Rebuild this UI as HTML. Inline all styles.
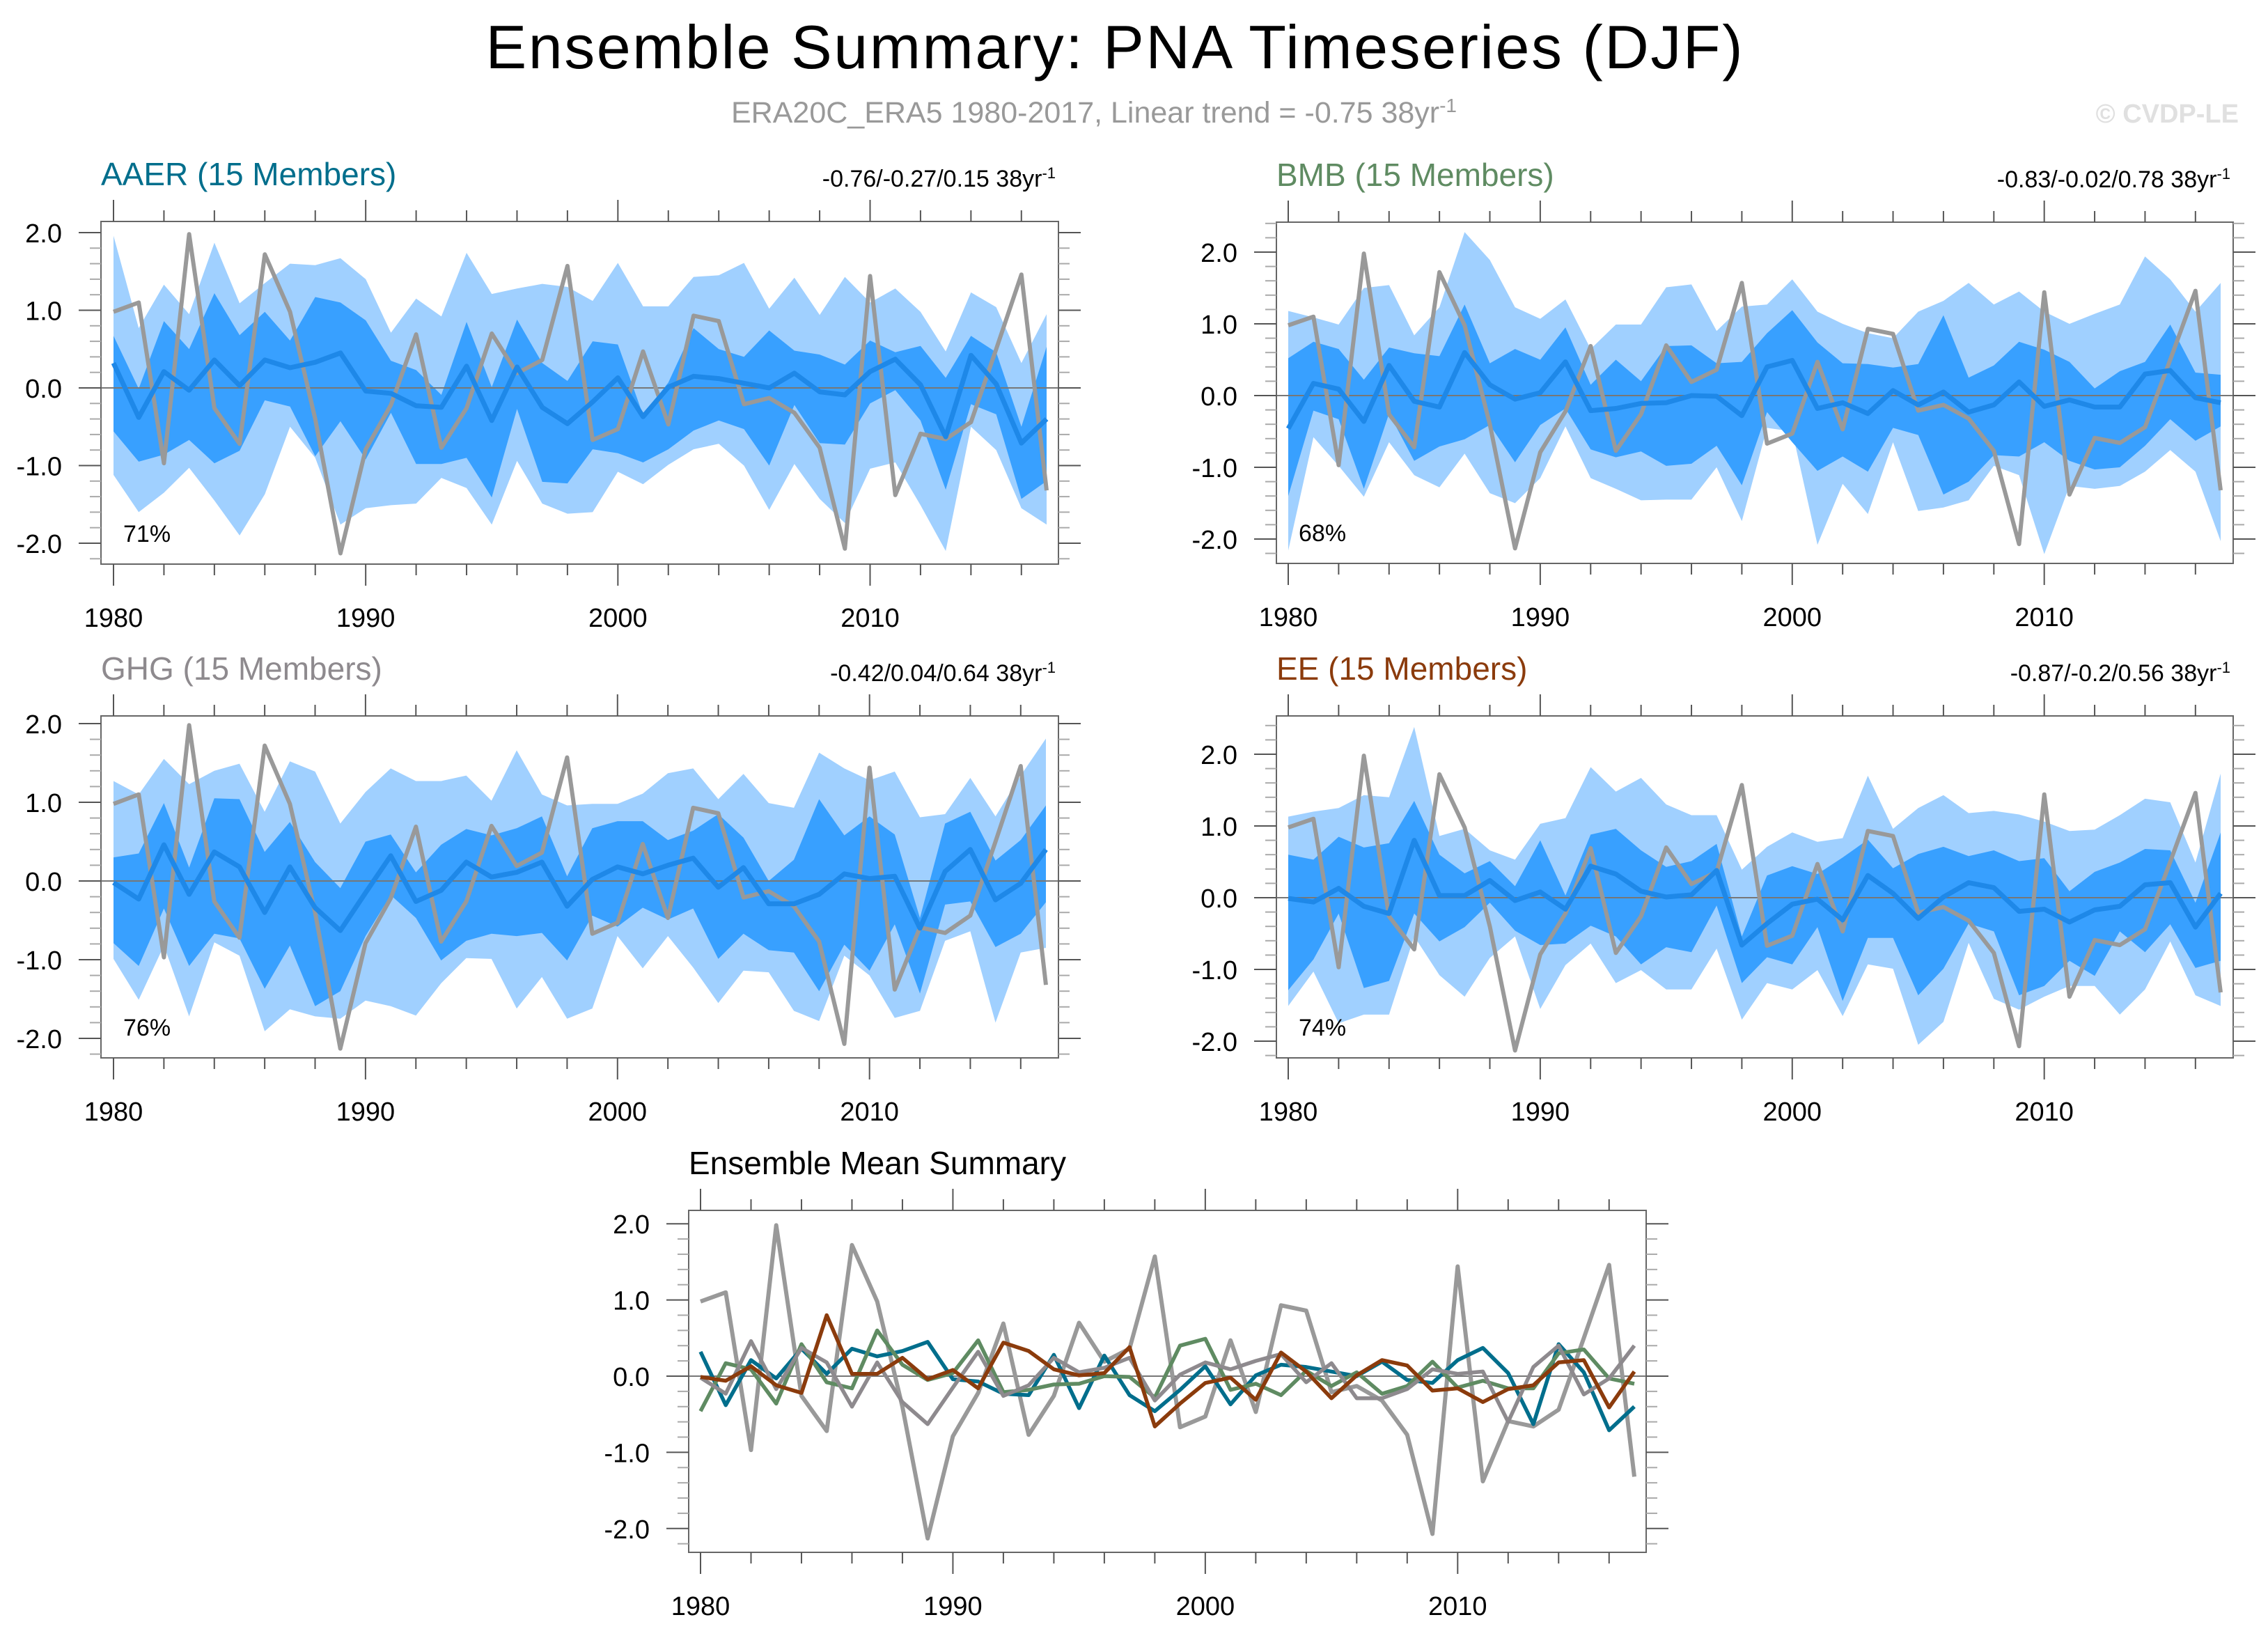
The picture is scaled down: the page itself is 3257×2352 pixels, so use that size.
<!DOCTYPE html>
<html><head><meta charset="utf-8"><style>
html,body{margin:0;padding:0;background:#fff;}
svg{display:block;font-family:"Liberation Sans",sans-serif;}
</style></head><body>
<svg id="chart" xmlns="http://www.w3.org/2000/svg" width="3257" height="2352" viewBox="0 0 3257 2352">
<rect x="0" y="0" width="3257" height="2352" fill="#fff"/>
<text x="1600" y="98" font-size="88" text-anchor="middle" fill="#000" textLength="1805">Ensemble Summary: PNA Timeseries (DJF)</text>
<text x="1571" y="176" font-size="43" text-anchor="middle" fill="#999">ERA20C_ERA5 1980-2017, Linear trend = -0.75 38yr<tspan font-size="28" baseline-shift="super">-1</tspan></text>
<text x="3215" y="176" font-size="38" font-weight="bold" text-anchor="end" fill="#e0e0e0">© CVDP-LE</text>
<g id="panels"></g>
</svg>
<script>
const years = [];
for (let y = 1980; y <= 2017; y++) years.push(y);
const obs = [0.98,1.10,-0.97,1.98,-0.26,-0.72,1.72,0.98,-0.40,-2.13,-0.79,-0.22,0.69,-0.77,-0.26,0.70,0.19,0.36,1.57,-0.67,-0.53,0.47,-0.47,0.93,0.86,-0.21,-0.13,-0.32,-0.77,-2.07,1.44,-1.38,-0.59,-0.66,-0.44,0.50,1.46,-1.32];

const aaerMean = [0.32,-0.38,0.21,-0.03,0.36,0.03,0.36,0.26,0.33,0.45,-0.04,-0.07,-0.23,-0.25,0.28,-0.42,0.27,-0.25,-0.46,-0.18,0.13,-0.37,0.01,0.15,0.12,0.06,0.00,0.19,-0.05,-0.09,0.21,0.37,0.04,-0.63,0.42,0.05,-0.71,-0.40];
const aaerLightHi = [1.96,0.77,1.33,0.95,1.87,1.09,1.35,1.60,1.58,1.67,1.40,0.71,1.15,0.92,1.74,1.21,1.28,1.34,1.30,1.12,1.61,1.05,1.05,1.43,1.45,1.61,1.02,1.42,0.94,1.43,1.10,1.28,0.98,0.47,1.23,1.04,0.32,0.95];
const aaerLightLo = [-1.12,-1.60,-1.35,-1.03,-1.45,-1.90,-1.37,-0.50,-0.90,-1.76,-1.55,-1.51,-1.49,-1.16,-1.29,-1.76,-0.94,-1.49,-1.62,-1.60,-1.08,-1.24,-0.99,-0.79,-0.72,-1.00,-1.57,-0.98,-1.43,-1.74,-1.04,-0.96,-1.51,-2.10,-0.50,-0.80,-1.55,-1.76];
const aaerDarkHi = [0.67,-0.01,0.86,0.50,1.22,0.68,0.98,0.61,1.17,1.10,0.87,0.35,0.23,-0.09,0.85,0.01,0.88,0.32,0.09,0.60,0.56,-0.35,0.07,0.77,0.50,0.40,0.74,0.48,0.43,0.30,0.61,0.46,0.54,0.13,0.67,0.46,-0.50,0.53];
const aaerDarkLo = [-0.56,-0.95,-0.86,-0.67,-0.97,-0.81,-0.16,-0.24,-0.88,-0.43,-0.92,-0.32,-0.98,-0.98,-0.90,-1.41,-0.27,-1.21,-1.23,-0.79,-0.84,-0.96,-0.79,-0.55,-0.42,-0.53,-1.00,-0.22,-0.71,-0.73,-0.20,-0.03,-0.42,-1.31,-0.21,-0.34,-1.43,-1.20];

const bmbMean = [-0.46,0.17,0.09,-0.36,0.42,-0.08,-0.16,0.60,0.15,-0.05,0.04,0.47,-0.21,-0.18,-0.11,-0.10,0.00,-0.01,-0.28,0.40,0.49,-0.18,-0.10,-0.25,0.07,-0.13,0.05,-0.23,-0.13,0.19,-0.15,-0.06,-0.16,-0.16,0.30,0.35,-0.03,-0.10];
const bmbLightHi = [1.18,1.09,0.99,1.50,1.54,0.84,1.23,2.28,1.89,1.23,1.07,1.34,0.65,0.99,0.99,1.51,1.55,0.90,1.24,1.27,1.62,1.17,1.00,0.87,0.80,1.17,1.32,1.57,1.27,1.45,1.17,1.00,1.14,1.27,1.94,1.62,1.17,1.57];
const bmbLightLo = [-2.16,-0.58,-0.98,-1.41,-0.65,-1.11,-1.28,-0.81,-1.36,-1.50,-1.15,-0.43,-1.15,-1.30,-1.46,-1.45,-1.45,-1.00,-1.75,-0.45,-0.50,-2.08,-1.23,-1.65,-0.65,-1.61,-1.56,-1.46,-0.98,-1.11,-2.21,-1.26,-1.30,-1.26,-1.06,-0.76,-1.06,-2.03];
const bmbDarkHi = [0.52,0.75,0.65,0.22,0.67,0.59,0.55,1.27,0.45,0.65,0.50,0.95,0.15,0.50,0.20,0.69,0.70,0.45,0.47,0.87,1.19,0.74,0.45,0.44,0.39,0.44,1.12,0.25,0.42,0.75,0.64,0.47,0.10,0.34,0.47,0.99,0.32,0.29];
const bmbDarkLo = [-1.40,-0.21,-0.33,-1.30,-0.25,-0.91,-0.71,-0.61,-0.41,-0.93,-0.41,-0.18,-0.75,-0.86,-0.78,-0.98,-0.95,-0.70,-1.25,-0.23,-0.65,-1.05,-0.85,-1.06,-0.45,-0.55,-1.38,-1.20,-0.83,-0.85,-0.65,-0.91,-1.03,-1.00,-0.70,-0.33,-0.63,-0.43];

const ghgMean = [-0.02,-0.23,0.46,-0.17,0.37,0.18,-0.40,0.18,-0.34,-0.63,-0.15,0.32,-0.26,-0.12,0.24,0.05,0.11,0.24,-0.32,0.02,0.18,0.09,0.20,0.29,-0.08,0.17,-0.29,-0.29,-0.17,0.09,0.03,0.06,-0.60,0.12,0.40,-0.24,-0.03,0.40];
const ghgLightHi = [1.27,1.10,1.55,1.23,1.40,1.49,0.88,1.52,1.39,0.73,1.13,1.43,1.27,1.27,1.34,1.02,1.66,1.10,0.96,0.98,0.98,1.11,1.37,1.43,1.04,1.36,0.99,0.93,1.63,1.43,1.28,1.39,0.81,0.85,1.31,0.82,1.34,1.81];
const ghgLightLo = [-0.99,-1.51,-0.82,-1.72,-0.78,-0.95,-1.91,-1.63,-1.72,-1.75,-1.52,-1.59,-1.71,-1.30,-0.98,-0.99,-1.62,-1.22,-1.75,-1.62,-0.70,-1.11,-0.70,-1.10,-1.55,-1.14,-1.16,-1.65,-1.78,-0.95,-1.20,-1.74,-1.65,-0.76,-0.64,-1.80,-0.91,-0.85];
const ghgDarkHi = [0.30,0.35,0.99,0.17,1.05,1.04,0.37,0.75,0.24,-0.09,0.50,0.59,0.11,0.46,0.66,0.58,0.67,0.82,0.06,0.67,0.76,0.76,0.52,0.64,0.85,0.55,0.00,0.27,1.04,0.58,0.82,0.59,-0.47,0.73,0.88,0.26,0.52,0.96];
const ghgDarkLo = [-0.79,-1.08,-0.35,-1.08,-0.67,-0.73,-1.37,-0.82,-1.59,-1.40,-0.70,-0.18,-0.47,-1.01,-0.76,-0.67,-0.70,-0.66,-1.01,-0.44,-0.58,-0.34,-0.49,-0.35,-0.99,-0.67,-0.88,-0.91,-1.40,-0.81,-1.14,-0.55,-1.43,-0.30,-0.26,-0.84,-0.67,-0.27];

const eeMean = [-0.01,-0.06,0.13,-0.12,-0.22,0.80,0.03,0.03,0.24,-0.04,0.08,-0.16,0.44,0.33,0.09,0.01,0.04,0.38,-0.66,-0.36,-0.09,-0.02,-0.31,0.31,0.06,-0.29,0.01,0.21,0.14,-0.19,-0.16,-0.34,-0.17,-0.12,0.18,0.21,-0.41,0.06];
const eeLightHi = [1.13,1.20,1.25,1.43,1.40,2.38,0.86,0.96,0.66,0.53,1.03,1.11,1.82,1.48,1.67,1.30,1.15,1.15,0.39,0.71,0.91,0.78,0.83,1.70,0.96,1.25,1.43,1.18,1.21,1.16,1.06,0.93,0.95,1.15,1.38,1.33,0.49,1.73];
const eeLightLo = [-1.51,-1.03,-1.75,-1.63,-1.63,-0.54,-1.08,-1.38,-0.84,-0.54,-1.55,-0.94,-0.64,-1.19,-1.01,-1.28,-1.28,-0.71,-1.70,-1.19,-1.28,-1.01,-1.65,-0.93,-0.99,-2.05,-1.73,-0.63,-1.41,-1.56,-1.38,-1.23,-1.23,-1.63,-1.28,-0.61,-1.36,-1.51];
const eeDarkHi = [0.60,0.53,0.85,0.70,0.76,1.35,0.60,0.34,0.51,0.16,0.80,0.03,0.88,0.96,0.66,0.43,0.51,0.75,-0.54,0.31,0.44,0.33,0.56,0.81,0.41,0.61,0.71,0.58,0.66,0.51,0.55,0.09,0.36,0.49,0.68,0.66,-0.07,0.91];
const eeDarkLo = [-1.29,-0.86,-0.22,-1.26,-1.16,-0.22,-0.61,-0.41,-0.07,-0.46,-0.66,-0.64,-0.39,-0.54,-0.93,-0.69,-0.76,-0.11,-1.19,-0.83,-0.93,-0.41,-1.44,-0.56,-0.56,-1.36,-0.99,-0.36,-0.47,-1.36,-1.23,-0.88,-1.09,-0.47,-0.76,-0.37,-0.98,-0.88];

const yTickVals = [2, 1, 0, -1, -2];
const yTickLabels = ["2.0", "1.0", "0.0", "-1.0", "-2.0"];
const xTickVals = [1980, 1990, 2000, 2010];
const xTickLabels = ["1980", "1990", "2000", "2010"];

const NS = "http://www.w3.org/2000/svg";
const root = document.getElementById("panels");
function mk(tag, attrs, parent) {
  const e = document.createElementNS(NS, tag);
  for (const k in attrs) e.setAttribute(k, attrs[k]);
  (parent || root).appendChild(e);
  return e;
}

const panelCfg = [
  {key:"aaer", x0:145, x1:1520, y0:318, y1:810, xa:163, xb:1503, yz:557, ys:111.5, title:"AAER (15 Members)", color:"#006e8c", stats:"-0.76/-0.27/0.15 38yr", pct:"71%"},
  {key:"bmb", x0:1833, x1:3207, y0:319, y1:809, xa:1850, xb:3189, yz:568, ys:103, title:"BMB (15 Members)", color:"#5f8b62", stats:"-0.83/-0.02/0.78 38yr", pct:"68%"},
  {key:"ghg", x0:145, x1:1520, y0:1028, y1:1519, xa:163, xb:1502, yz:1265, ys:113, title:"GHG (15 Members)", color:"#8e8a8e", stats:"-0.42/0.04/0.64 38yr", pct:"76%"},
  {key:"ee", x0:1833, x1:3207, y0:1028, y1:1519, xa:1850, xb:3189, yz:1289, ys:103, title:"EE (15 Members)", color:"#8b3b0c", stats:"-0.87/-0.2/0.56 38yr", pct:"74%"},
  {key:"summary", x0:989, x1:2364, y0:1738, y1:2229, xa:1006, xb:2347, yz:1976, ys:109.4, title:"Ensemble Mean Summary", color:"#000"}
];
const bands = {
  aaer:[aaerLightHi,aaerLightLo,aaerDarkHi,aaerDarkLo,aaerMean],
  bmb:[bmbLightHi,bmbLightLo,bmbDarkHi,bmbDarkLo,bmbMean],
  ghg:[ghgLightHi,ghgLightLo,ghgDarkHi,ghgDarkLo,ghgMean],
  ee:[eeLightHi,eeLightLo,eeDarkHi,eeDarkLo,eeMean]
};

function drawPanel(p) {
  const g = mk("g", {});
  
  
  const xs = yr => p.xa + (yr - 1980) * (p.xb - p.xa) / 37;
  const ysc = v => p.yz - v * p.ys;
  const clipId = "clip-" + p.key;
  const cp = mk("clipPath", {id: clipId}, g);
  mk("rect", {x:p.x0, y:p.y0, width:p.x1-p.x0, height:p.y1-p.y0}, cp);
  const plot = mk("g", {"clip-path": "url(#" + clipId + ")"}, g);
  function poly(hi, lo, fill, name) {
    let d = "";
    years.forEach((yr,i) => { d += (i ? "L" : "M") + xs(yr).toFixed(1) + "," + ysc(hi[i]).toFixed(1); });
    for (let i = years.length - 1; i >= 0; i--) d += "L" + xs(years[i]).toFixed(1) + "," + ysc(lo[i]).toFixed(1);
    const e = mk("path", {d: d + "Z", fill: fill}, plot);
    
    
  }
  function line(vals, color, w, name) {
    const pts = years.map((yr,i) => xs(yr).toFixed(1) + "," + ysc(vals[i]).toFixed(1)).join(" ");
    const e = mk("polyline", {points: pts, fill:"none", stroke:color, "stroke-width":w, "stroke-linejoin":"round"}, plot);
    
    
  }
  if (p.key !== "summary") {
    const b = bands[p.key];
    poly(b[0], b[1], "#a0d0ff", p.key + "-outer-spread-band");
    poly(b[2], b[3], "#38a0ff", p.key + "-inner-spread-band");
    const z = mk("line", {x1:p.x0, x2:p.x1, y1:ysc(0), y2:ysc(0), stroke:"#777", "stroke-width":2}, plot);
    
    
    line(obs, "#999999", 6, "observed-pna-line");
    line(b[4], "#1e88e8", 7, p.key + "-ensemble-mean-line");
  } else {
    const z = mk("line", {x1:p.x0, x2:p.x1, y1:ysc(0), y2:ysc(0), stroke:"#777", "stroke-width":2}, plot);
    
    
    line(obs, "#999999", 6, "observed-pna-line");
    line(aaerMean, "#006e8c", 5.5, "aaer-mean-line");
    line(bmbMean, "#5f8b62", 5.5, "bmb-mean-line");
    line(ghgMean, "#8e8a8e", 5.5, "ghg-mean-line");
    line(eeMean, "#8b3b0c", 5.5, "ee-mean-line");
  }
  const fr = mk("rect", {x:p.x0, y:p.y0, width:p.x1-p.x0, height:p.y1-p.y0, fill:"none", stroke:"#666", "stroke-width":2}, g);
  
  
  for (let yr = 1980; yr <= 2016; yr += 2) {
    const major = (yr % 10 === 0);
    const L = major ? 31 : 16;
    const x = xs(yr);
    mk("line", {x1:x, x2:x, y1:p.y0, y2:p.y0-L, stroke:"#555", "stroke-width":2}, g);
    mk("line", {x1:x, x2:x, y1:p.y1, y2:p.y1+L, stroke:"#555", "stroke-width":2}, g);
  }
  for (let k = -30; k <= 30; k++) {
    const v = k / 5;
    const y = ysc(v);
    if (y < p.y0 + 1 || y > p.y1 - 1) continue;
    const major = (k % 5 === 0);
    const L = major ? 32 : 16;
    mk("line", {x1:p.x0, x2:p.x0-L, y1:y, y2:y, stroke: major ? "#555" : "#aaa", "stroke-width":2}, g);
    mk("line", {x1:p.x1, x2:p.x1+L, y1:y, y2:y, stroke: major ? "#555" : "#aaa", "stroke-width":2}, g);
  }
  yTickVals.forEach((v,i) => {
    const t = mk("text", {x:p.x0-56, y:ysc(v)+14, "font-size":38, "text-anchor":"end", fill:"#000"}, g);
    t.textContent = yTickLabels[i];
    
    
  });
  xTickVals.forEach((v,i) => {
    const t = mk("text", {x:xs(v), y:p.y1+90, "font-size":38, "text-anchor":"middle", fill:"#000"}, g);
    t.textContent = xTickLabels[i];
    
    
  });
  const tt = mk("text", {x:p.x0, y:p.y0-52, "font-size":46, fill:p.color}, g);
  tt.textContent = p.title;
  
  
  if (p.stats) {
    const st = mk("text", {x:p.x1-4, y:p.y0-50, "font-size":34, "text-anchor":"end", fill:"#000"}, g);
    st.textContent = p.stats;
    const sup = mk("tspan", {"font-size":22, "baseline-shift":"super"}, st);
    sup.textContent = "-1";
    
    
    const pc = mk("text", {x:p.x0+32, y:p.y1-32, "font-size":34, fill:"#000"}, g);
    pc.textContent = p.pct;
    
    
  }
}
panelCfg.forEach(drawPanel);
</script>
</body></html>
